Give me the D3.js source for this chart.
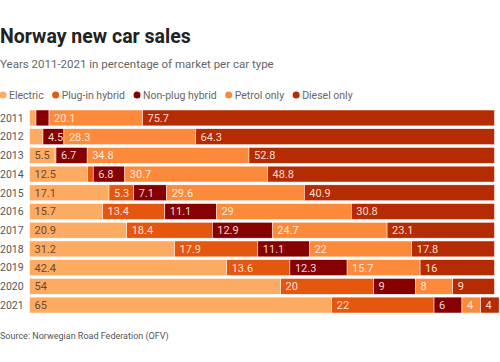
<!DOCTYPE html>
<html>
<head>
<meta charset="utf-8">
<script src="https://cdn.jsdelivr.net/npm/d3@7"></script>
<style>
  body { margin: 0; background: #fff; }
  svg text { font-family: "Roboto", "Open Sans", sans-serif; }
</style>
</head>
<body>
<div id="chart"></div>
<script>
var years = ["2011", "2012", "2013", "2014", "2015", "2016", "2017", "2018", "2019", "2020", "2021"];
var types = ["Electric", "Plug-in hybrid", "Non-plug hybrid", "Petrol only", "Diesel only"];
var electric   = [1.4, 2.9, 5.5, 12.5, 17.1, 15.7, 20.9, 31.2, 42.4, 54, 65];
var plugin     = [0, 0, 0.2, 1.2, 5.3, 13.4, 18.4, 17.9, 13.6, 20, 22];
var nonplug    = [2.8, 4.5, 6.7, 6.8, 7.1, 11.1, 12.9, 11.1, 12.3, 9, 6];
var petrol     = [20.1, 28.3, 34.8, 30.7, 29.6, 29, 24.7, 22, 15.7, 8, 4];
var diesel     = [75.7, 64.3, 52.8, 48.8, 40.9, 30.8, 23.1, 17.8, 16, 9, 4];
var colors = ["#fdaa62", "#e5560f", "#870000", "#fd893b", "#b62c02"];

var series = [electric, plugin, nonplug, petrol, diesel];
var width = 500, height = 362;
var margin = {left: 29.5, right: 5.5, top: 110, bottom: 49};

var svg = d3.select('#chart').append('svg')
	.attr('width', width).attr('height', height);

// title block
svg.append('text').attr('x', 0).attr('y', 43)
	.style('font-size', '19.5px').style('font-weight', 'bold').style('fill', '#222')
	.text('Norway new car sales');
svg.append('text').attr('x', 0).attr('y', 68)
	.style('font-size', '11.5px').style('fill', '#666')
	.text('Years 2011-2021 in percentage of market per car type');

// legend, laid out left to right
var legend = svg.selectAll('.legend').data(types)
	.enter().append('g')
	.attr('class', 'legend');
legend.append('circle').attr('r', 3.5).attr('cx', 3).style('fill', function(d, i) { return colors[i]; });
legend.append('text').attr('x', 9).attr('dy', '0.35em')
	.style('font-size', '10.5px').style('fill', '#666')
	.text(function(d) { return d; });
var lx = 0;
legend.attr('transform', function(d) {
	var t = 'translate(' + lx + ',95)';
	lx += 9 + d3.select(this).select('text').node().getComputedTextLength() + 9;
	return t;
});

var x = d3.scaleLinear().domain([0, 100]).range([margin.left, width - margin.right]);
var y = d3.scaleBand().domain(years).range([margin.top, height - margin.bottom]).paddingInner(0.15);

// build stacked rows
var rows = years.map(function(yr, i) {
	var start = 0;
	return series.map(function(s, k) {
		var seg = {year: yr, type: k, value: s[i], x0: start, x1: start + s[i]};
		start += s[i];
		return seg;
	});
});
var segs = [].concat.apply([], rows);

svg.selectAll('.bar').data(segs)
	.enter().append('rect')
	.attr('class', 'bar')
	.attr('x', function(d) { return x(d.x0); })
	.attr('width', function(d) { return Math.max(0, x(d.x1) - x(d.x0)); })
	.attr('y', function(d) { return y(d.year); })
	.attr('height', y.bandwidth())
	.style('fill', function(d) { return colors[d.type]; })
	.style('stroke', '#fff').style('stroke-width', 0.5);

svg.selectAll('.label').data(segs.filter(function(d) { return d.value >= 4; }))
	.enter().append('text')
	.attr('class', 'label')
	.attr('x', function(d) { return x(d.x0) + 5; })
	.attr('y', function(d) { return y(d.year) + y.bandwidth() / 2; })
	.attr('dy', '0.36em')
	.style('font-size', '11px')
	.style('fill', function(d) { return d.type === 0 ? '#6a4a33' : 'rgba(255,255,255,0.85)'; })
	.text(function(d) { return d.value; });

// year axis labels
svg.selectAll('.year').data(years)
	.enter().append('text')
	.attr('class', 'year')
	.attr('x', 0)
	.attr('y', function(d) { return y(d) + y.bandwidth() / 2; })
	.attr('dy', '0.36em')
	.style('font-size', '10.5px').style('fill', '#555')
	.text(function(d) { return d; });

svg.append('text').attr('x', 0).attr('y', 339)
	.style('font-size', '9px').style('fill', '#555')
	.text('Source: Norwegian Road Federation (OFV)');
</script>
</body>
</html>
